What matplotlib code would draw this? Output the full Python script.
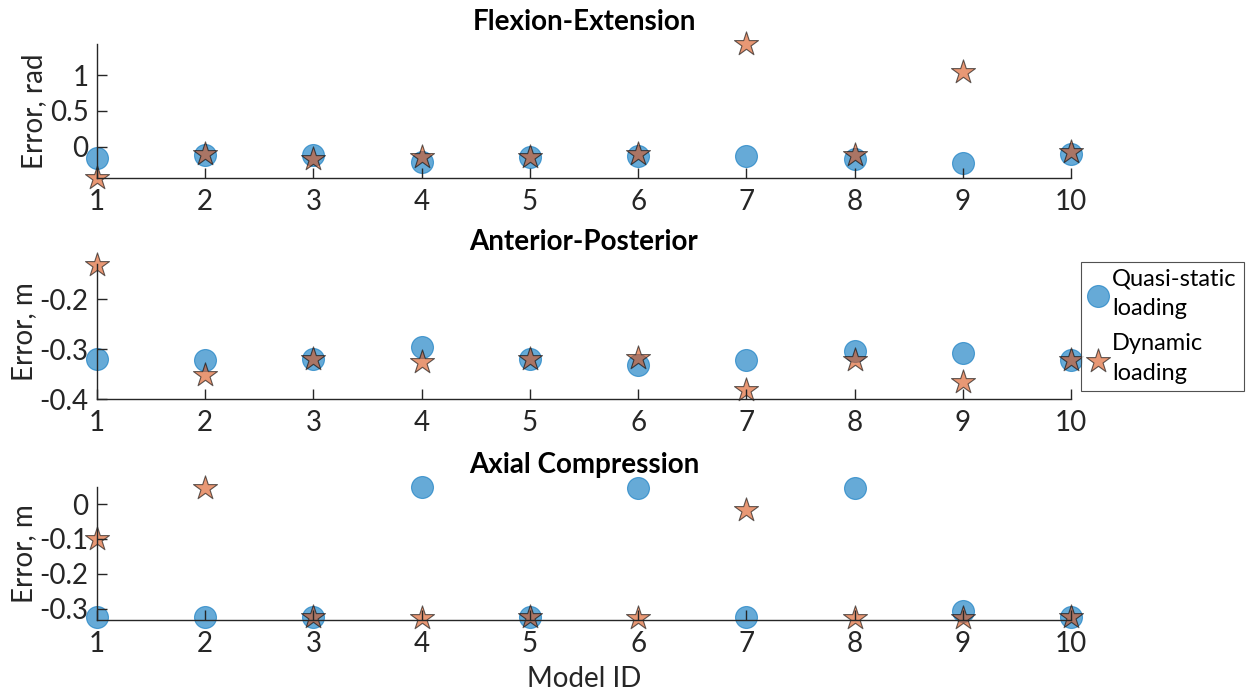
import numpy as np
import matplotlib
matplotlib.use('Agg')
import matplotlib.pyplot as plt

plt.rcParams['font.family'] = ['Lato', 'DejaVu Sans']
plt.rcParams['axes.unicode_minus'] = False

model_id = [1, 2, 3, 4, 5, 6, 7, 8, 9, 10]

titles = ['Flexion-Extension', 'Anterior-Posterior', 'Axial Compression']
ylabels = ['Error, rad', 'Error, m', 'Error, m']

# quasi-static loading (circles)
fe_quasi = [-0.16, -0.12, -0.12, -0.21, -0.14, -0.13, -0.13, -0.18, -0.23, -0.11]
ap_quasi = [-0.320, -0.321, -0.320, -0.295, -0.319, -0.331, -0.321, -0.303, -0.307, -0.321]
ax_quasi = [-0.325, -0.325, -0.325, 0.048, -0.325, 0.047, -0.324, 0.047, -0.305, -0.325]

# dynamic loading (stars)
fe_dyn = [-0.44, -0.10, -0.17, -0.14, -0.14, -0.11, 1.44, -0.12, 1.05, -0.07]
ap_dyn = [-0.131, -0.351, -0.319, -0.325, -0.319, -0.317, -0.381, -0.321, -0.365, -0.321]
ax_dyn = [-0.100, 0.047, -0.325, -0.327, -0.325, -0.327, -0.017, -0.327, -0.327, -0.325]

ylims = [(-0.44, 1.44), (-0.40, -0.13), (-0.333, 0.048)]
yticks = [[0, 0.5, 1], [-0.4, -0.3, -0.2], [-0.3, -0.2, -0.1, 0]]
yticklabels = [['0', '0.5', '1'], ['-0.4', '-0.3', '-0.2'], ['-0.3', '-0.2', '-0.1', '0']]

quasi = [fe_quasi, ap_quasi, ax_quasi]
dyn = [fe_dyn, ap_dyn, ax_dyn]

fig = plt.figure(figsize=(12.5, 6.96), dpi=100)
left, width = 0.0776, 0.7792
boxes = [(0.7443, 0.1925), (0.4263, 0.1940), (0.1088, 0.1911)]

blue = '#0072BD'
orange = '#D95319'

axes = []
for i in range(3):
    ax = fig.add_axes([left, boxes[i][0], width, boxes[i][1]])
    h1 = ax.scatter(model_id, quasi[i], s=250, marker='o', color=blue, alpha=0.6,
                    edgecolors=blue, linewidths=0.8, clip_on=False, label='Quasi-static\nloading')
    h2 = ax.scatter(model_id, dyn[i], s=330, marker='*', color=orange, alpha=0.6,
                    edgecolors='black', linewidths=0.8, clip_on=False, label='Dynamic\nloading')
    ax.set_xlim(1, 10)
    ax.set_ylim(*ylims[i])
    ax.set_xticks(model_id)
    ax.set_yticks(yticks[i])
    ax.set_yticklabels(yticklabels[i])
    for s in ['top', 'right']:
        ax.spines[s].set_visible(False)
    for s in ['left', 'bottom']:
        ax.spines[s].set_color('#262626')
        ax.spines[s].set_linewidth(1.0)
    ax.tick_params(direction='in', length=7, width=1, colors='#262626',
                   labelsize=20, pad=6)
    ax.tick_params(axis='x', pad=8)
    ax.set_ylabel(ylabels[i], fontsize=20, color='#262626', labelpad=2)
    ax.set_title(titles[i], fontsize=20, fontweight='bold', pad=10)
    axes.append(ax)

axes[2].set_xlabel('Model ID', fontsize=20, color='#262626', labelpad=6)

leg = fig.legend(handles=[h1, h2], loc='upper right', bbox_to_anchor=(0.995, 0.624),
                 fontsize=17, frameon=True, fancybox=False, edgecolor='#262626',
                 handletextpad=0.2, borderpad=0.3, labelspacing=0.6,
                 handlelength=0.8, borderaxespad=0.0)
for t in leg.get_texts():
    t.set_linespacing(1.5)
leg.get_frame().set_linewidth(0.8)

fig.savefig('out.png', dpi=100)
